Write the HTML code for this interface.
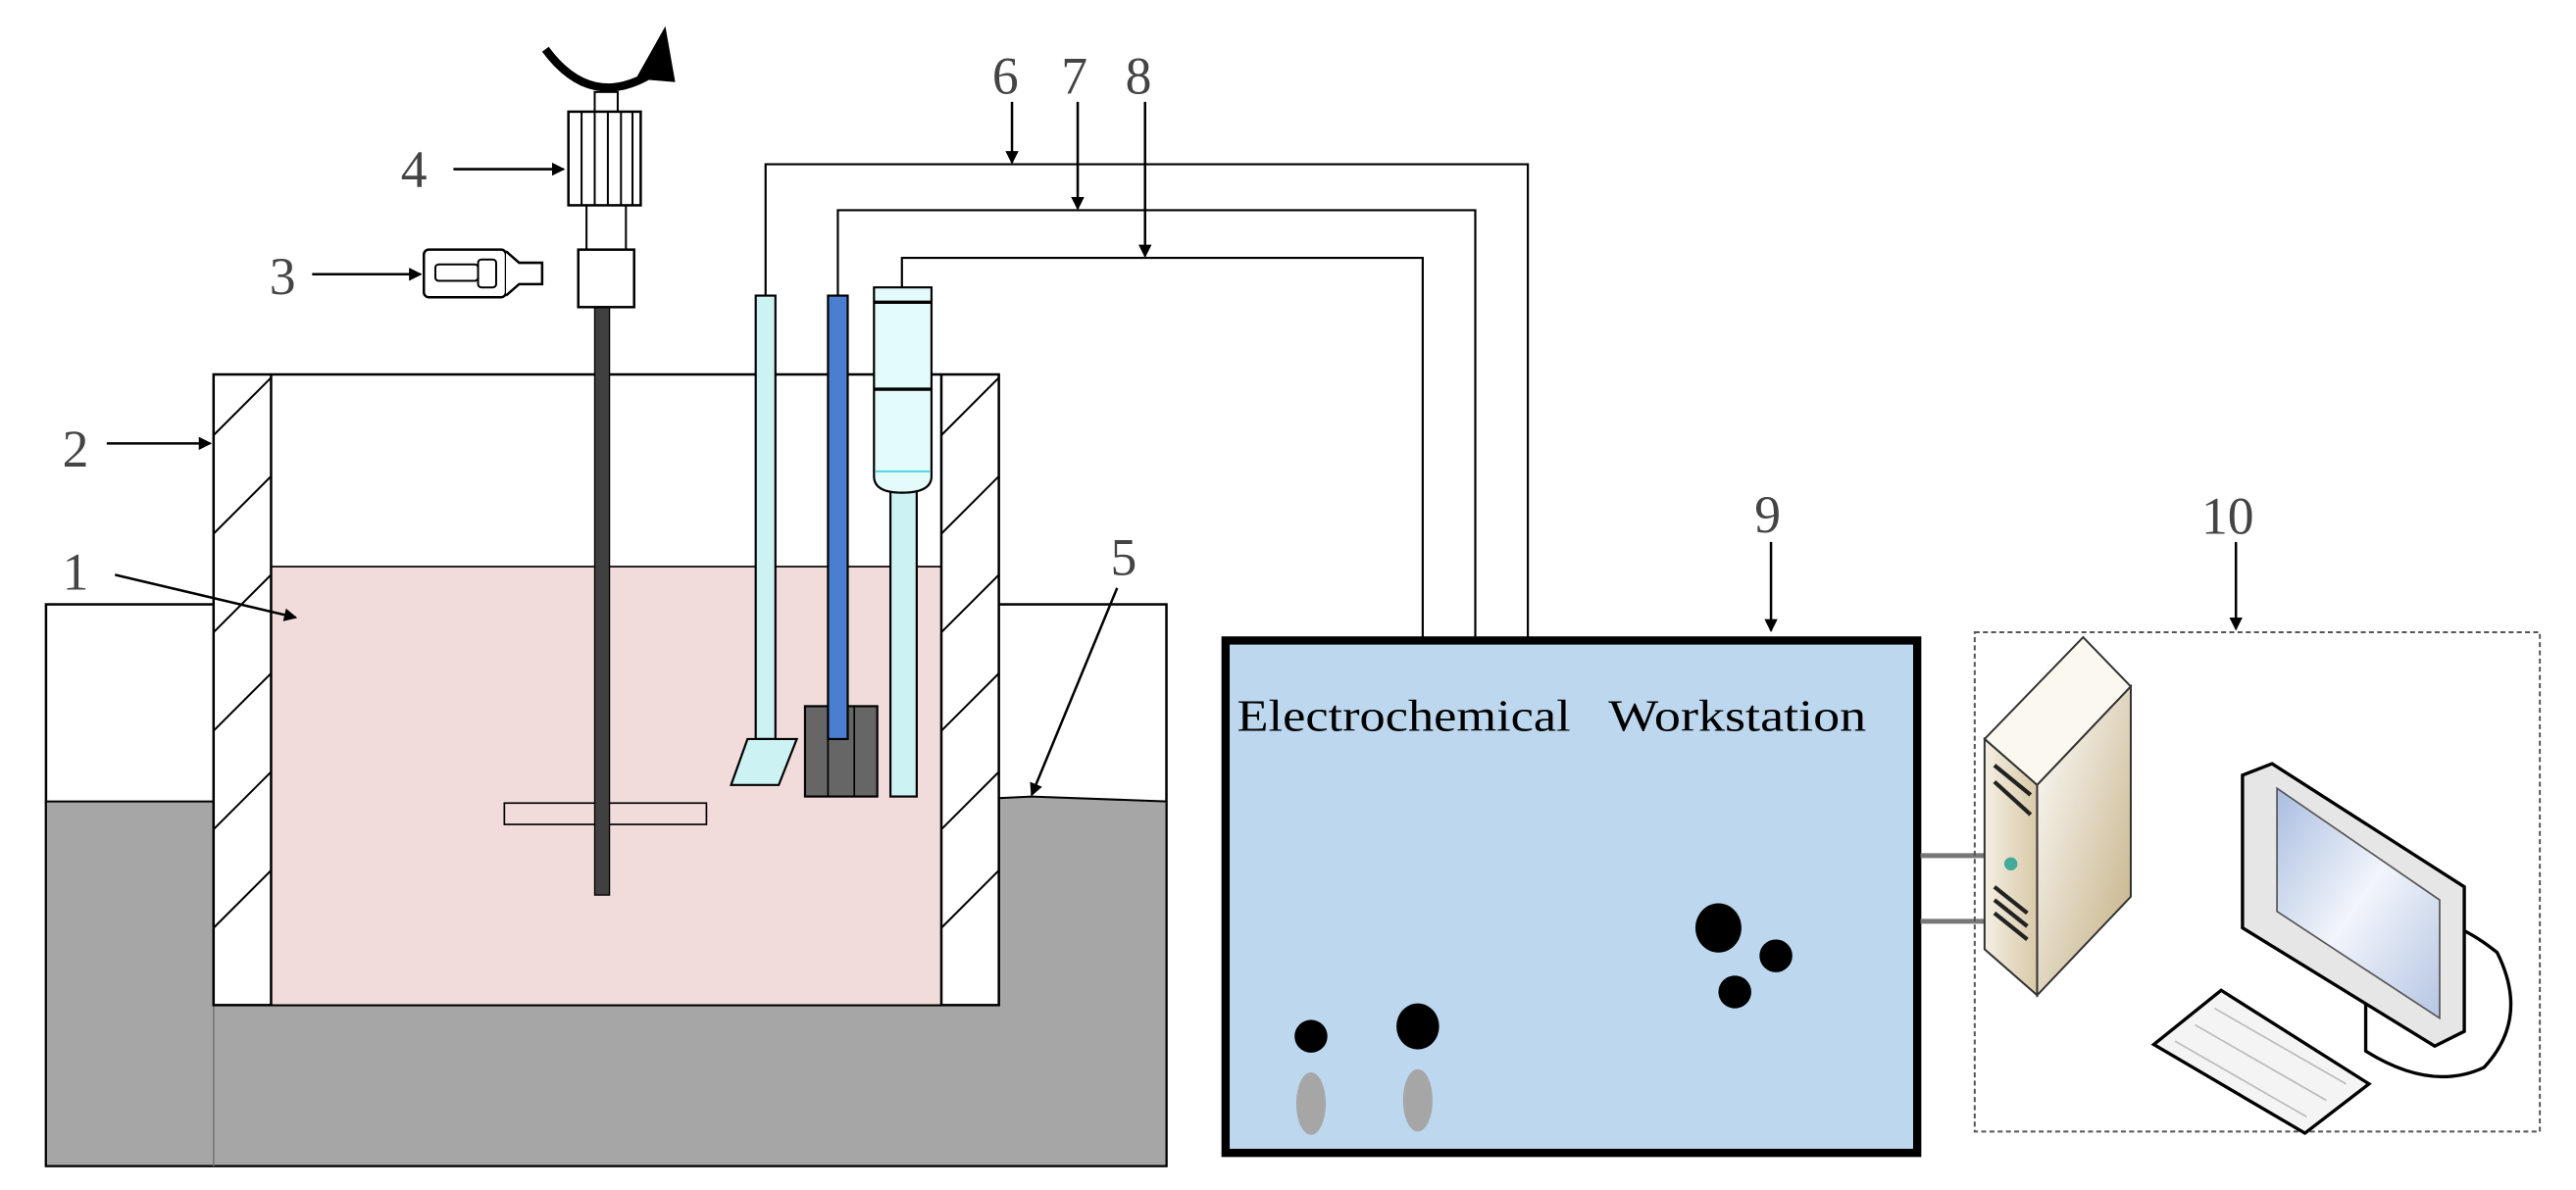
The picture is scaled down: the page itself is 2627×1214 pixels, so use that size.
<!DOCTYPE html>
<html><head><meta charset="utf-8"><style>
html,body{margin:0;padding:0;background:#fff}
svg{display:block}
text{font-family:"Liberation Serif",serif;fill:#444}
</style></head><body>
<svg width="2627" height="1214" viewBox="0 0 1568 724.6" preserveAspectRatio="none" xmlns="http://www.w3.org/2000/svg">
<defs>
<marker id="ah" markerWidth="8" markerHeight="8" refX="7" refY="4" orient="auto" markerUnits="userSpaceOnUse"><path d="M0,0 L8,4 L0,8 z" fill="#000"/></marker>
<linearGradient id="tw" x1="0" y1="0" x2="1" y2="0"><stop offset="0" stop-color="#f4efe3"/><stop offset="1" stop-color="#d8c9a8"/></linearGradient>
<linearGradient id="tf" x1="0" y1="0" x2="1" y2="1"><stop offset="0" stop-color="#ffffff"/><stop offset="1" stop-color="#c2ad80"/></linearGradient>
<linearGradient id="sc" x1="0" y1="0" x2="1" y2="1"><stop offset="0" stop-color="#a9bde0"/><stop offset="0.5" stop-color="#f2f5fb"/><stop offset="1" stop-color="#b5c5e3"/></linearGradient>
</defs>
<!-- bath -->
<rect x="28" y="368" width="682" height="342" fill="#fff" stroke="#000" stroke-width="1.5"/>
<path d="M28,488 L130,488 L130,612 L608,612 L608,486 L628,485 L710,488 L710,710 L28,710 Z" fill="#a6a6a6" stroke="#000" stroke-width="1.2"/>
<line x1="130" y1="612" x2="130" y2="710" stroke="#777" stroke-width="1"/>
<!-- beaker -->
<rect x="130" y="228" width="478" height="384" fill="#fff" stroke="#000" stroke-width="1.5"/>
<rect x="165" y="345" width="408" height="267" fill="#f2dcdb" stroke="#000" stroke-width="1"/>
<line x1="165" y1="228" x2="165" y2="612" stroke="#000" stroke-width="1.5"/>
<line x1="573" y1="228" x2="573" y2="612" stroke="#000" stroke-width="1.5"/>
<g stroke="#000" stroke-width="1.2">
<line x1="130" y1="265" x2="165" y2="230"/><line x1="130" y1="325" x2="165" y2="290"/><line x1="130" y1="385" x2="165" y2="350"/><line x1="130" y1="445" x2="165" y2="410"/><line x1="130" y1="505" x2="165" y2="470"/><line x1="130" y1="565" x2="165" y2="530"/>
<line x1="573" y1="265" x2="608" y2="230"/><line x1="573" y1="325" x2="608" y2="290"/><line x1="573" y1="385" x2="608" y2="350"/><line x1="573" y1="445" x2="608" y2="410"/><line x1="573" y1="505" x2="608" y2="470"/><line x1="573" y1="565" x2="608" y2="530"/>
</g>
<!-- stirrer -->
<rect x="307" y="489" width="123" height="13" fill="#f2dcdb" stroke="#000" stroke-width="1"/>
<rect x="362" y="187" width="9" height="358" fill="#404040" stroke="#000" stroke-width="0.8"/>
<rect x="352" y="152" width="34" height="35" fill="#fff" stroke="#000" stroke-width="1.5"/>
<line x1="357" y1="125" x2="357" y2="152" stroke="#000" stroke-width="1.2"/><line x1="381" y1="125" x2="381" y2="152" stroke="#000" stroke-width="1.2"/>
<rect x="362" y="56" width="14" height="12" fill="#fff" stroke="#000" stroke-width="1.2"/>
<rect x="346" y="68" width="44" height="57" fill="#fff" stroke="#000" stroke-width="1.5"/>
<g stroke="#000" stroke-width="1.2"><line x1="354" y1="68" x2="354" y2="125"/><line x1="362" y1="68" x2="362" y2="125"/><line x1="370" y1="68" x2="370" y2="125"/><line x1="378" y1="68" x2="378" y2="125"/><line x1="385" y1="68" x2="385" y2="125"/></g>
<path d="M332,30 Q360,68 398,44" fill="none" stroke="#000" stroke-width="5"/>
<path d="M387,48 L405,16 L411,50 Z" fill="#000"/>
<!-- probe 3 -->
<rect x="258" y="152" width="50" height="29" rx="3" fill="#fff" stroke="#000" stroke-width="1.5"/>
<path d="M308,153 L316,160 L330,160 L330,173 L316,173 L308,180" fill="#fff" stroke="#000" stroke-width="1.5"/>
<rect x="265" y="161" width="26" height="10" rx="2" fill="#fff" stroke="#000" stroke-width="1.2"/>
<rect x="291" y="158" width="11" height="17" rx="2" fill="#fff" stroke="#000" stroke-width="1.2"/>
<!-- labels left -->
<g font-size="32"><text x="244" y="114">4</text><text x="164" y="179">3</text><text x="38" y="284">2</text><text x="38" y="359">1</text><text x="676" y="350">5</text></g>
<g stroke="#000" stroke-width="1.5" marker-end="url(#ah)">
<line x1="276" y1="103" x2="343" y2="103"/><line x1="190" y1="167" x2="256" y2="167"/><line x1="65" y1="270" x2="128" y2="270"/><line x1="70" y1="350" x2="180" y2="376"/><line x1="680" y1="358" x2="628" y2="484"/>
</g>
<!-- wires -->
<g fill="none" stroke="#000" stroke-width="1.3">
<path d="M466,180 L466,100 L930,100 L930,388"/><path d="M510,180 L510,128 L898,128 L898,388"/><path d="M549,176 L549,157 L866,157 L866,388"/>
</g>
<g font-size="32"><text x="604" y="57">6</text><text x="646" y="57">7</text><text x="685" y="57">8</text></g>
<g stroke="#000" stroke-width="1.5" marker-end="url(#ah)">
<line x1="616" y1="62" x2="616" y2="99"/><line x1="656" y1="62" x2="656" y2="127"/><line x1="697" y1="62" x2="697" y2="156"/>
</g>
<!-- electrodes -->
<rect x="460" y="180" width="12" height="270" fill="#ccf2f4" stroke="#000" stroke-width="1.3"/>
<path d="M455,450 L485,450 L474,478 L445,478 Z" fill="#ccf2f4" stroke="#000" stroke-width="1.3"/>
<rect x="490" y="430" width="44" height="55" fill="#666" stroke="#000" stroke-width="1.3"/>
<line x1="504" y1="430" x2="504" y2="485" stroke="#000"/><line x1="520" y1="430" x2="520" y2="485" stroke="#000"/>
<rect x="504" y="180" width="12" height="270" fill="#4a7fd0" stroke="#000" stroke-width="1.3"/>
<rect x="542" y="290" width="16" height="195" fill="#ccf2f4" stroke="#000" stroke-width="1.3"/>
<path d="M532,175 L567,175 L567,290 Q567,300 549,300 Q532,300 532,290 Z" fill="#e4fbfc" stroke="#000" stroke-width="1.3"/>
<line x1="532" y1="184" x2="567" y2="184" stroke="#000" stroke-width="2"/><line x1="532" y1="237" x2="567" y2="237" stroke="#000" stroke-width="2"/>
<line x1="533" y1="287" x2="566" y2="287" stroke="#4fd8e0" stroke-width="1.2"/>
<!-- workstation -->
<rect x="746" y="390" width="421" height="312" fill="#bdd7ee" stroke="#000" stroke-width="5"/>
<text x="753" y="445" font-size="27" style="fill:#000" textLength="203" lengthAdjust="spacingAndGlyphs">Electrochemical</text>
<text x="979" y="445" font-size="27" style="fill:#000" textLength="157" lengthAdjust="spacingAndGlyphs">Workstation</text>
<text x="1068" y="324" font-size="32">9</text>
<line x1="1078" y1="330" x2="1078" y2="384" stroke="#000" stroke-width="1.5" marker-end="url(#ah)"/>
<ellipse cx="1046" cy="565" rx="14" ry="15"/><ellipse cx="1081" cy="582" rx="10" ry="10"/><ellipse cx="1056" cy="604" rx="10" ry="10"/>
<ellipse cx="798" cy="631" rx="10" ry="10"/><ellipse cx="863" cy="625" rx="13" ry="14"/>
<ellipse cx="798" cy="672" rx="9" ry="19" fill="#a6a6a6"/><ellipse cx="863" cy="670" rx="9" ry="19" fill="#a6a6a6"/>
<line x1="1169" y1="521" x2="1214" y2="521" stroke="#777" stroke-width="3"/><line x1="1169" y1="561" x2="1214" y2="561" stroke="#777" stroke-width="3"/>
<!-- computer -->
<rect x="1202" y="385" width="344" height="304" fill="none" stroke="#555" stroke-width="1.2" stroke-dasharray="3,2"/>
<text x="1340" y="325" font-size="32">10</text>
<line x1="1361" y1="330" x2="1361" y2="383" stroke="#000" stroke-width="1.5" marker-end="url(#ah)"/>
<path d="M1208,450 L1268,388 L1297,418 L1240,478 Z" fill="#fbf8ef" stroke="#333" stroke-width="1.2"/>
<path d="M1208,450 L1240,478 L1240,606 L1208,578 Z" fill="url(#tw)" stroke="#333" stroke-width="1.2"/>
<path d="M1240,478 L1297,418 L1297,546 L1240,606 Z" fill="url(#tf)" stroke="#333" stroke-width="1.2"/>
<g stroke="#222" stroke-width="2.5" fill="none"><path d="M1214,466 L1236,484"/><path d="M1214,476 L1236,496"/><path d="M1214,540 L1234,556"/><path d="M1214,548 L1234,564"/><path d="M1214,556 L1234,572"/></g>
<circle cx="1224" cy="526" r="4" fill="#4a9"/>
<path d="M1440,580 Q1470,540 1520,580 Q1540,620 1512,650 Q1480,665 1440,640 Z" fill="#fff" stroke="#000" stroke-width="2"/>
<path d="M1365,472 L1383,465 L1500,540 L1500,628 L1482,637 L1365,565 Z" fill="#e6e6e6" stroke="#000" stroke-width="2"/>
<path d="M1386,480 L1485,548 L1485,620 L1386,555 Z" fill="url(#sc)" stroke="#555" stroke-width="1"/>
<path d="M1311,636 L1352,603 L1442,660 L1403,690 Z" fill="#f4f4f4" stroke="#000" stroke-width="2"/>
<g stroke="#bbb" stroke-width="1"><line x1="1324" y1="634" x2="1404" y2="680"/><line x1="1336" y1="624" x2="1416" y2="670"/><line x1="1348" y1="614" x2="1428" y2="660"/></g>
</svg>
</body></html>
